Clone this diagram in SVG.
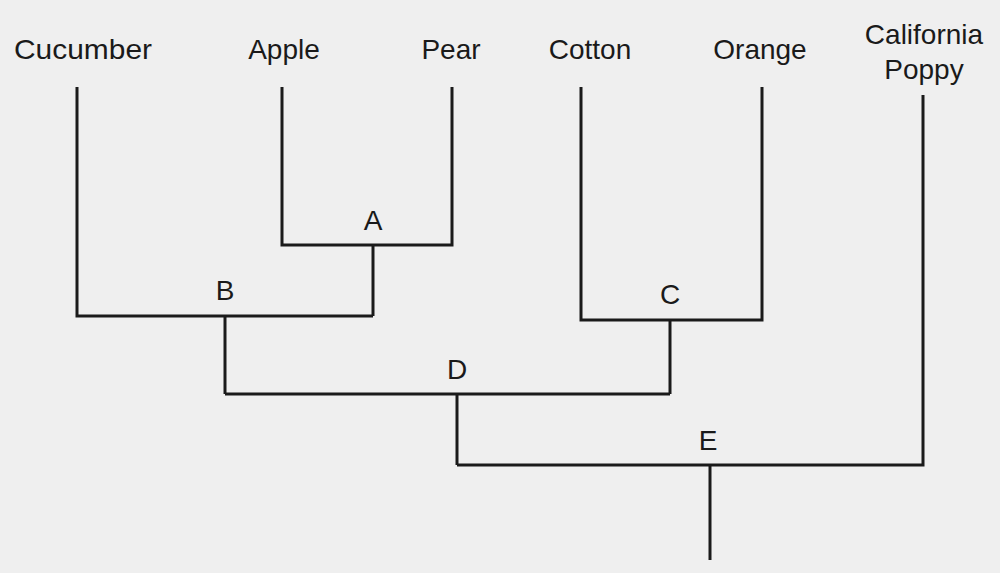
<svg xmlns="http://www.w3.org/2000/svg" width="1000" height="573" viewBox="0 0 1000 573">
<style>
.l{stroke:#1a1a1a;stroke-width:3;fill:none}
text{font-family:"Liberation Sans",Arial,sans-serif;font-size:28px;fill:#1a1a1a;text-anchor:middle}
</style>
<rect width="1000" height="573" fill="#efefef"/>
<g id="connectors">
<polyline class="l" points="77,87 77,316 373,316"/>
<polyline class="l" points="282,87 282,245 452,245 452,87"/>
<line class="l" x1="373" y1="245" x2="373" y2="316"/>
<polyline class="l" points="581,87 581,320 762,320 762,87"/>
<line class="l" x1="225" y1="316" x2="225" y2="394"/>
<line class="l" x1="670" y1="320" x2="670" y2="394"/>
<line class="l" x1="225" y1="394" x2="670" y2="394"/>
<line class="l" x1="457" y1="394" x2="457" y2="465"/>
<polyline class="l" points="457,465 923,465 923,95"/>
<line class="l" x1="710" y1="465" x2="710" y2="560"/>
</g>
<g id="cucumber"><text x="83" y="59" textLength="138" lengthAdjust="spacingAndGlyphs">Cucumber</text></g>
<g id="apple"><text x="284" y="59">Apple</text></g>
<g id="pear"><text x="451" y="59">Pear</text></g>
<g id="cotton"><text x="590" y="59">Cotton</text></g>
<g id="orange"><text x="760" y="59">Orange</text></g>
<g id="poppy"><text x="924" y="44">California</text><text x="924" y="79">Poppy</text></g>
<g id="A"><text x="373" y="230">A</text></g>
<g id="B"><text x="225" y="300">B</text></g>
<g id="C"><text x="670" y="304">C</text></g>
<g id="D"><text x="457" y="379">D</text></g>
<g id="E"><text x="708" y="450">E</text></g>
</svg>
